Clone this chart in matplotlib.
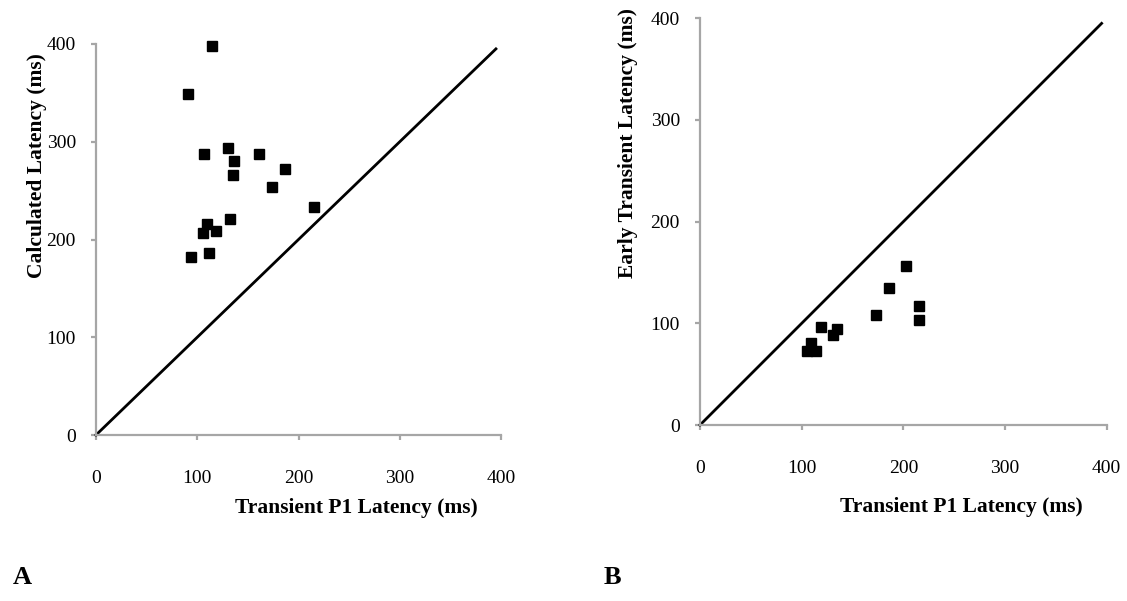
import matplotlib
matplotlib.use('Agg')
import matplotlib.pyplot as plt

plt.rcParams['font.family'] = ['Liberation Serif', 'DejaVu Serif']

# panel A: transient P1 latency vs calculated latency
p1_a = [114.6, 91.2, 106.7, 130.7, 136.6, 135.6, 160.7, 186.7,
        173.5, 215.6, 132.3, 109.3, 105.7, 118.5, 93.8, 111.6]
calc = [398, 348.5, 287.5, 293.3, 280.3, 266, 287.5, 272,
        254, 233.5, 221, 216, 206.6, 208.4, 182.4, 186.2]

# panel B: transient P1 latency vs early transient latency
p1_b = [202.6, 185.9, 215.4, 215.1, 173.1, 119, 134.5, 131.1, 109.2, 105, 113.8]
early = [156.7, 134.7, 116.7, 103, 108.5, 96.7, 94.1, 88.5, 80.4, 73.1, 73.1]

ticks = [0, 100, 200, 300, 400]
unity = [0, 395]

fig = plt.figure(figsize=(11.27, 6.01), dpi=100)
ax1 = fig.add_axes([96/1127, 1-435/601, 405/1127, 391/601])
ax2 = fig.add_axes([700/1127, 1-425/601, 406.7/1127, 406.7/601])

gray = '#a6a6a6'


def style(ax):
    ax.set_xlim(0, 400)
    ax.set_ylim(0, 400)
    ax.set_xticks(ticks)
    ax.set_yticks(ticks)
    for s in ['top', 'right']:
        ax.spines[s].set_visible(False)
    for s in ['left', 'bottom']:
        ax.spines[s].set_color(gray)
        ax.spines[s].set_linewidth(1.6)
    ax.tick_params(axis='both', direction='out', length=3.5, width=1.6,
                   color=gray, labelsize=14, labelcolor='black')
    ax.tick_params(axis='x', pad=22)
    ax.tick_params(axis='y', pad=11)


for ax, xs, ys in [(ax1, p1_a, calc), (ax2, p1_b, early)]:
    style(ax)
    ax.plot(unity, unity, color='black', lw=2, clip_on=False, zorder=2)
    ax.plot(xs, ys, 's', color='black', ms=7, clip_on=False, zorder=3)
    ax.set_xlabel('Transient P1 Latency (ms)', fontsize=15.5, fontweight='bold')

ax1.set_ylabel('Calculated Latency (ms)', fontsize=15.5, fontweight='bold')
ax2.set_ylabel('Early Transient Latency (ms)', fontsize=15.5, fontweight='bold')

ax1.xaxis.set_label_coords(0.642, -0.16)
ax2.xaxis.set_label_coords(0.642, -0.177)
ax1.yaxis.set_label_coords(-0.121, 0.69)
ax2.yaxis.set_label_coords(-0.152, 0.693)

fig.text(22/1127, 1-578/601, 'A', fontsize=19, fontweight='bold', ha='center', va='center')
fig.text(612/1127, 1-578/601, 'B', fontsize=19, fontweight='bold', ha='center', va='center')

fig.savefig('out.png', dpi=100)
